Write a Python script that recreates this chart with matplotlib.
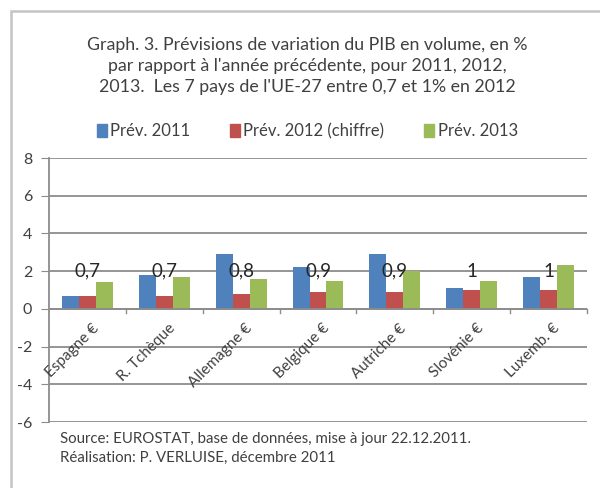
import matplotlib
matplotlib.use("Agg")
import matplotlib.pyplot as plt
import numpy as np
from matplotlib.patches import Rectangle

plt.rcParams['font.family'] = ['Lato', 'DejaVu Sans']
plt.rcParams['axes.unicode_minus'] = False

pays = ["Espagne €", "R. Tchèque", "Allemagne €", "Belgique €",
        "Autriche €", "Slovénie €", "Luxemb. €"]
prev_2011 = [0.7, 1.8, 2.9, 2.2, 2.9, 1.1, 1.7]
prev_2012 = [0.7, 0.7, 0.8, 0.9, 0.9, 1.0, 1.0]
prev_2013 = [1.4, 1.7, 1.6, 1.5, 2.0, 1.5, 2.3]
series_names = ["Prév. 2011", "Prév. 2012 (chiffre)", "Prév. 2013"]
colors = ["#4F81BD", "#C0504D", "#9BBB59"]

titre = ("Graph. 3. Prévisions de variation du PIB en volume, en %\n"
         "par rapport à l'année précédente, pour 2011, 2012,\n"
         "2013.  Les 7 pays de l'UE-27 entre 0,7 et 1% en 2012")
source = ("Source: EUROSTAT, base de données, mise à jour 22.12.2011.\n"
          "Réalisation: P. VERLUISE, décembre 2011")

fig = plt.figure(figsize=(6, 4.88), dpi=100)
ax = fig.add_axes([49/600, 1-422/488, (587-49)/600, (422-158)/488])

# outer chart frame
fig.patches.append(Rectangle((11/600, -0.1), 1.2, 1.1 - 11/488,
                             transform=fig.transFigure, fill=False,
                             edgecolor="#c4c4c4", linewidth=1.8, zorder=0))

ind = np.arange(len(pays))
w = 0.22
for k, (vals, name, c) in enumerate(zip([prev_2011, prev_2012, prev_2013],
                                        series_names, colors)):
    ax.bar(ind + (k - 1) * w, vals, w, color=c, label=name, zorder=3)

# data labels from the 2012 forecast
for i, v in enumerate(prev_2012):
    txt = f"{v:.1f}".replace(".", ",")
    if txt.endswith(",0"):
        txt = txt[:-2]
    ax.text(i, 2.0, txt, ha="center", va="center", fontsize=13.5,
            color="#262626", zorder=5)

ax.set_xlim(-0.5, len(pays) - 0.5)
ax.set_ylim(-6, 8)
ax.set_yticks(np.arange(-6, 9, 2))
ax.grid(True, axis="y", color="#8c8c8c", linewidth=1.3, zorder=0)
ax.axhline(0, color="#8c8c8c", linewidth=1.3, zorder=4)

# category boundary ticks on the zero line
for b in np.arange(0.5, len(pays) - 0.5 + 1, 1.0):
    ax.plot([b, b], [0, -0.2], color="#8c8c8c", linewidth=1.0,
            zorder=4, clip_on=False)

for s in ["top", "right", "bottom"]:
    ax.spines[s].set_visible(False)
ax.spines["left"].set_color("#8c8c8c")
ax.spines["left"].set_linewidth(1.3)
ax.tick_params(axis="y", length=6, color="#8c8c8c", labelsize=11.5,
               labelcolor="#404040", pad=6)
ax.tick_params(axis="x", length=0, pad=0)
ax.set_xticks(ind)
ax.set_xticklabels([])

for i, p in enumerate(pays):
    ax.annotate(p, xy=(i, 0), xycoords="data", xytext=(3, -9),
                textcoords="offset points", rotation=45,
                rotation_mode="anchor", ha="right", va="top",
                fontsize=11, color="#404040")

fig.text(0.512, 1 - 66/488, titre, ha="center", va="center",
         fontsize=12.8, color="#404040", linespacing=1.42)

handles = [Rectangle((0, 0), 1, 1, color=c) for c in colors]
fig.legend(handles, series_names, loc="center", ncol=3,
           bbox_to_anchor=(0.512, 1 - 131/488), frameon=False,
           fontsize=12, labelcolor="#404040", handlelength=0.6,
           handleheight=0.8, handletextpad=0.2, columnspacing=2.4)

fig.text(60/600, 1 - 448/488, source, ha="left", va="center",
         fontsize=10.8, color="#404040", linespacing=1.45)

fig.savefig("out.png", dpi=100)
